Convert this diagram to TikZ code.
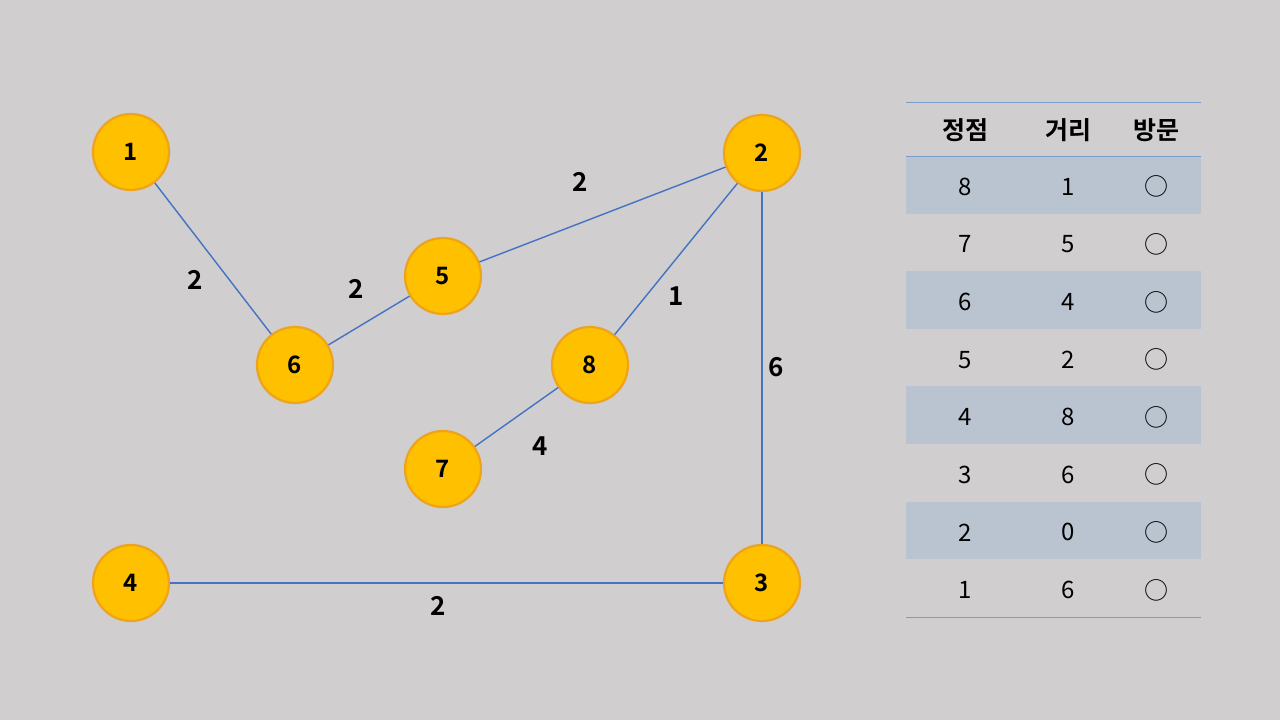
\documentclass[tikz,border=0pt]{standalone}
\usepackage{fontspec}
\setmainfont{Noto Sans CJK KR}
\newfontfamily\kbold{Noto Sans CJK KR Bold}
\usetikzlibrary{calc,positioning}

\definecolor{bgcol}{HTML}{D0CECE}
\definecolor{vfill}{HTML}{FFC000}
\definecolor{vline}{HTML}{EDA31C}
\definecolor{ecol}{HTML}{4472C4}
\definecolor{rowcol}{HTML}{B9C4D0}
\definecolor{rulecol}{HTML}{7A9CC8}

\begin{document}
\begin{tikzpicture}[x=1pt,y=-1pt]

	\tikzset{vertex/.style={
				circle,fill=vfill,draw=vline,line width=2.2pt,
				minimum size=76pt,inner sep=0pt,
				font=\kbold\fontsize{24}{24}\selectfont
			},
		edge/.style={draw=ecol,line width=1.4pt},
		weight/.style={font=\kbold\fontsize{26}{26}\selectfont},
		cell/.style={font=\fontsize{24}{24}\selectfont},
		head/.style={font=\kbold\fontsize{25}{25}\selectfont}
	}

	\fill[bgcol] (0,0) rectangle (1280,720);

	% vertices
	\foreach \n/\x/\y in {1/131/152, 2/762/153, 5/443/276, 6/295/365, 8/590/365, 7/443/469, 4/131/583, 3/762/583} {
			\node[vertex] (v\n) at (\x,\y) {\n};
		}

	% edges
	\draw[edge] (v1) -- (v6);
	\draw[edge] (v6) -- (v5);
	\draw[edge] (v5) -- (v2);
	\draw[edge] (v8) -- (v2);
	\draw[edge] (v2) -- (v3);
	\draw[edge] (v7) -- (v8);
	\draw[edge] (v4) -- (v3);

	\foreach \w/\x/\y/\nm in {2/195/280/w16, 2/356/289/w65, 2/580/182/w52, 1/676/296/w82, 6/776/367/w23, 4/540/446/w78, 2/438/606/w43} {
			\node[weight] (\nm) at (\x,\y) {\w};
		}

	% table
	\foreach \r in {0,2,4,6} {
			\fill[rowcol] (906,{156+\r*57.6}) rectangle (1201,{156+(\r+1)*57.6});
		}
	\draw[rulecol,line width=1pt] (906,102) -- (1201,102);
	\draw[rulecol,line width=1pt] (906,156) -- (1201,156);
	\draw[rulecol,line width=1pt] (906,617) -- (1201,617);

	\node[head] (h1) at (965,130) {정점};
	\node[head] (h2) at (1068,130) {거리};
	\node[head] (h3) at (1156,130) {방문};

	\foreach \v/\d [count=\i from 0] in {8/1, 7/5, 6/4, 5/2, 4/8, 3/6, 2/0, 1/6} {
			\node[cell] (c\i_1) at (965,{158+(\i+0.5)*57.6}) {\v};
			\node[cell] (c\i_2) at (1068,{158+(\i+0.5)*57.6}) {\d};
			\node[cell] (c\i_3) at (1156,{158+(\i+0.5)*57.6}) {○};
		}
\end{tikzpicture}
\end{document}
